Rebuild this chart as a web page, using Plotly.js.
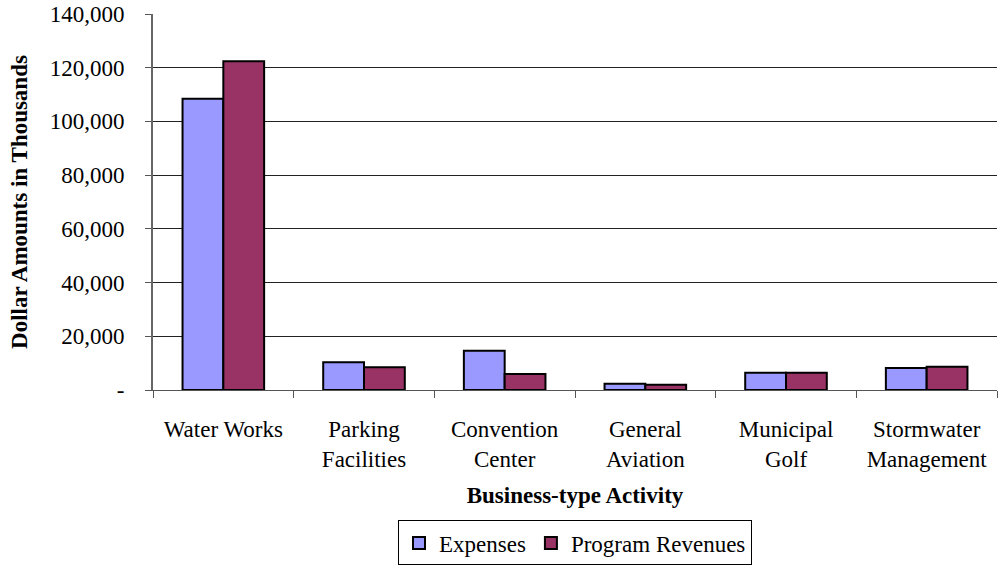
<!DOCTYPE html>
<html><head><meta charset="utf-8">
<script src="https://cdn.plot.ly/plotly-3.0.1.min.js"></script>
<style>html,body{margin:0;padding:0;background:#fff}#chart{width:1001px;height:569px}</style>
</head><body><div id="chart"></div>
<script>
var categories = ["Water Works", "Parking<br>Facilities", "Convention<br>Center", "General<br>Aviation", "Municipal<br>Golf", "Stormwater<br>Management"];
var expenses = [108400, 10300, 14600, 2300, 6400, 8200];
var programRevenues = [122400, 8500, 6000, 1950, 6400, 8700];
var yTickVals = [0, 20000, 40000, 60000, 80000, 100000, 120000, 140000];
var yTickText = ["-", "20,000", "40,000", "60,000", "80,000", "100,000", "120,000", "140,000"];

var font = "Liberation Serif, Times New Roman, serif";
var fs = 23;
var traces = [
  {type: "bar", name: "Expenses", x: categories, y: expenses,
   marker: {color: "#9999FF", line: {color: "#000", width: 2}}},
  {type: "bar", name: "Program Revenues", x: categories, y: programRevenues,
   marker: {color: "#993366", line: {color: "#000", width: 2}}}
];
var layout = {
  width: 1001, height: 569,
  margin: {l: 153, r: 4, t: 14, b: 175},
  paper_bgcolor: "#fff", plot_bgcolor: "#fff",
  font: {family: font, size: fs, color: "#000"},
  barmode: "group", bargap: 0.42, bargroupgap: 0,
  showlegend: true,
  legend: {orientation: "h", x: 0.5, xanchor: "center", y: -0.347, yanchor: "top",
    bordercolor: "#000", borderwidth: 1, bgcolor: "#fff", font: {family: font, size: fs},
    itemwidth: 30, tracegroupgap: 0},
  xaxis: {type: "category", tickson: "boundaries", ticks: "outside", ticklen: 7, tickcolor: "#555",
    showline: true, linecolor: "#555", linewidth: 1, showgrid: false, zeroline: false,
    tickfont: {family: font, size: fs}, automargin: false, ticklabelstandoff: 18,
    title: {text: "<b>Business-type Activity</b>", font: {family: font, size: fs}, standoff: 16}},
  yaxis: {range: [0, 140000], tickvals: yTickVals, ticktext: yTickText,
    ticks: "outside", ticklen: 6, tickcolor: "#555", showline: true, linecolor: "#666", linewidth: 2,
    showgrid: true, gridcolor: "#222", gridwidth: 1, zeroline: false, automargin: false,
    ticklabelstandoff: 16,
    tickfont: {family: font, size: fs},
    title: {text: "<b>Dollar Amounts in Thousands</b>", font: {family: font, size: fs}, standoff: 16}}
};
Plotly.newPlot("chart", traces, layout, {displayModeBar: false, staticPlot: true});
</script></body></html>
